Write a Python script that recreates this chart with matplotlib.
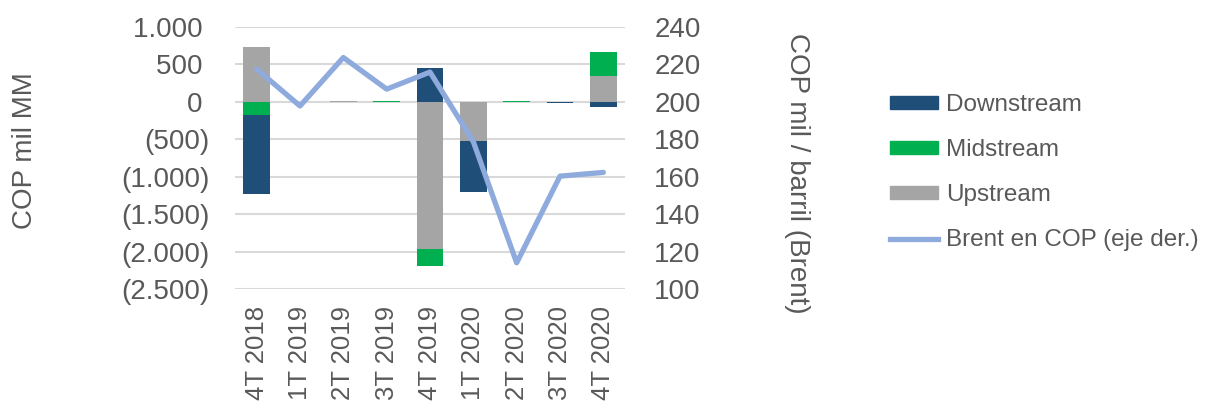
import matplotlib.pyplot as plt
import matplotlib.patches as mpatches
from matplotlib.lines import Line2D
import numpy as np

plt.rcParams['font.family'] = ['Liberation Sans', 'DejaVu Sans']

quarters = ['4T 2018', '1T 2019', '2T 2019', '3T 2019', '4T 2019',
            '1T 2020', '2T 2020', '3T 2020', '4T 2020']
upstream = [732, 0, 6, 0, -1966, -519, 0, 0, 339]
midstream = [-180, 0, 0, 8, -228, 0, 8, 0, 331]
downstream = [-1049, 0, 0, 0, 446, -687, 0, -20, -72]
brent = [217.5, 197.8, 223.7, 206.8, 215.9, 178.7, 114.0, 160.3, 162.3]

left_ticks = [-2500, -2000, -1500, -1000, -500, 0, 500, 1000]
# trailing space mimics Excel's "_)" alignment of positive numbers
left_labels = ['(2.500)', '(2.000)', '(1.500)', '(1.000)', '(500)', '0 ', '500 ', '1.000 ']
right_ticks = [100, 120, 140, 160, 180, 200, 220, 240]

col_down = '#1f4e79'
col_mid = '#00b050'
col_up = '#a5a5a5'
col_line = '#8faadc'
txt = '#595959'

fig = plt.figure(figsize=(12.13, 4.08), dpi=100)
ax = fig.add_axes([235 / 1213, 1 - 289 / 408, 390 / 1213, 262 / 408])
ax2 = ax.twinx()

x = np.arange(len(quarters))
pos = np.zeros(len(quarters))
neg = np.zeros(len(quarters))
# Excel stacks in series order: Upstream, Midstream, Downstream
for vals, c in [(upstream, col_up), (midstream, col_mid), (downstream, col_down)]:
    v = np.array(vals, dtype=float)
    bottom = np.where(v >= 0, pos, neg)
    ax.bar(x, v, 0.62, bottom=bottom, color=c, zorder=2)
    pos += np.where(v >= 0, v, 0)
    neg += np.where(v < 0, v, 0)

ax2.plot(x, brent, color=col_line, linewidth=3.8, solid_capstyle='round', zorder=3)

ax.set_ylim(-2500, 1000)
ax.set_yticks(left_ticks)
ax.set_yticklabels(left_labels)
ax2.set_ylim(100, 240)
ax2.set_yticks(right_ticks)
ax.set_xlim(-0.5, len(quarters) - 0.5)
ax.set_xticks(x)
ax.set_xticklabels(quarters, rotation=90)

ax.grid(axis='y', color='#d9d9d9', linewidth=1.5, zorder=0)
ax.set_axisbelow(True)
for a in (ax, ax2):
    for s in a.spines.values():
        s.set_visible(False)
    a.tick_params(length=0, labelsize=20, colors=txt)
ax.tick_params(axis='y', pad=18)
ax2.tick_params(axis='y', pad=21)
ax.tick_params(axis='x', pad=12, labelsize=18.5)

ax.set_ylabel('COP mil MM', fontsize=20, color=txt, va='center')
ax.yaxis.set_label_coords(-0.538, 0.527)
ax2.set_ylabel('COP mil / barril (Brent)', fontsize=20, color=txt, rotation=270, va='center')
ax2.yaxis.set_label_coords(1.441, 0.443)

handles = [mpatches.Patch(color=col_down, label='Downstream'),
           mpatches.Patch(color=col_mid, label='Midstream'),
           mpatches.Patch(color=col_up, label='Upstream'),
           Line2D([0], [0], color=col_line, linewidth=3.8, label='Brent en COP (eje der.)')]
leg = fig.legend(handles=handles, loc='upper left', bbox_to_anchor=(868 / 1213, 1 - 72 / 408),
                 frameon=False, fontsize=17.5, handlelength=2.0, handleheight=0.45,
                 handletextpad=0.3, labelspacing=0.95, labelcolor=txt)

fig.savefig('out.png', dpi=100)
